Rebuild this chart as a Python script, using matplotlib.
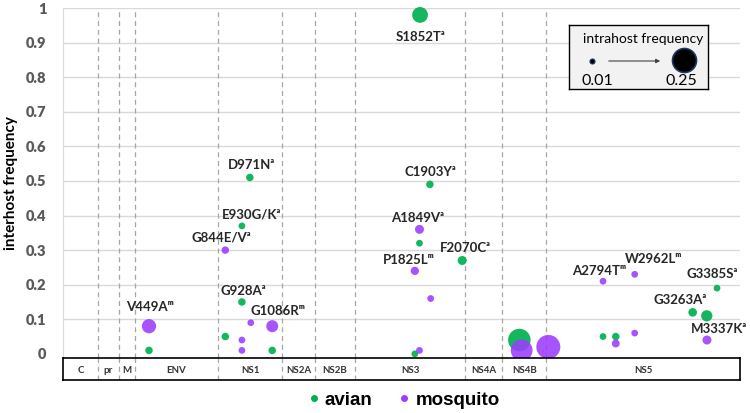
import numpy as np
import matplotlib
matplotlib.use('Agg')
import matplotlib.pyplot as plt
from matplotlib.lines import Line2D

plt.rcParams['font.family'] = ['Lato', 'DejaVu Sans']

# 1. data
genes = ['C', 'pr', 'M', 'ENV', 'NS1', 'NS2A', 'NS2B', 'NS3', 'NS4A', 'NS4B', 'NS5']
gene_bounds = [4, 185, 294, 377, 806, 1138, 1308, 1515, 2085, 2277, 2505, 3508]

avian_pos = [449, 844, 930, 930, 971, 1087, 1849, 1852, 1825, 1903, 2070, 2366, 2799, 2865, 3263, 3336, 3389]
avian_inter = [0.01, 0.05, 0.37, 0.15, 0.51, 0.01, 0.32, 0.98, 0.00, 0.49, 0.27, 0.04, 0.05, 0.05, 0.12, 0.11, 0.19]
avian_intra = [0.03, 0.03, 0.02, 0.03, 0.03, 0.03, 0.02, 0.14, 0.02, 0.03, 0.05, 0.23, 0.02, 0.03, 0.045, 0.08, 0.02]

mosq_pos = [449, 844, 930, 930, 976, 1087, 1825, 1849, 1849, 1907, 2378, 2516, 2799, 2963, 2963, 2865, 3337]
mosq_inter = [0.08, 0.30, 0.04, 0.01, 0.09, 0.08, 0.24, 0.36, 0.01, 0.16, 0.01, 0.02, 0.21, 0.23, 0.06, 0.03, 0.04]
mosq_intra = [0.12, 0.03, 0.02, 0.02, 0.02, 0.09, 0.04, 0.05, 0.02, 0.02, 0.22, 0.25, 0.02, 0.02, 0.02, 0.035, 0.05]

# label text, host, index of point
labels = [
    ('V449A', 'm', 0), ('G844E/V', 'a', 1), ('E930G/K', 'a', 2), ('G928A', 'a', 3),
    ('D971N', 'a', 4), ('G1086R', 'm', 5), ('A1849V', 'a', 7), ('S1852T', 'a', 7),
    ('P1825L', 'm', 6), ('C1903Y', 'a', 9), ('F2070C', 'a', 10), ('A2794T', 'm', 12),
    ('W2962L', 'm', 13), ('G3263A', 'a', 14), ('G3385S', 'a', 16), ('M3337K', 'a', 16),
]
# offsets in px (dx right, dy up) for each label
offsets = [(1, 19), (-4, 13), (10, 11), (1, 11), (2, 12), (6, 15), (-2, 11), (0, -22),
           (-6, 11), (0, 12), (3, 12), (-4, 10), (19, 15), (-13, 12), (-5, 14), (12, 11)]
label_src = ['m', 'm', 'a', 'a', 'a', 'm', 'm', 'a', 'm', 'a', 'a', 'm', 'm', 'a', 'a', 'm']

green = '#00B050'
purple = '#9B3CFF'
sup = {'a': '\u1d43', 'm': '\u1d50'}


def msize(f):
    d = 6 + (f - 0.01) / 0.24 * 18
    return (d * 0.72) ** 2


fig = plt.figure(figsize=(7.5, 4.13), dpi=100)
W, H = 750, 413
ax = fig.add_axes([63 / W, (H - 358) / H, 677 / W, 350 / H])
bx = fig.add_axes([63 / W, (H - 380) / H, 677 / W, 22 / H], sharex=ax)

ax.set_xlim(gene_bounds[0], gene_bounds[-1])
ax.set_ylim(-0.012, 1.0)
ax.set_yticks(np.arange(0, 1.01, 0.1))
ax.set_yticklabels(['0', '0.1', '0.2', '0.3', '0.4', '0.5', '0.6', '0.7', '0.8', '0.9', '1'],
                   fontsize=10.5, fontweight='heavy', color='#595959')
ax.tick_params(axis='y', length=0, pad=12)
ax.tick_params(axis='x', bottom=False, labelbottom=False)
for yy in np.arange(0.1, 1.01, 0.1):
    ax.axhline(yy, color='#d9d9d9', lw=1, zorder=0)
for s in ['top', 'right', 'bottom']:
    ax.spines[s].set_visible(False)
ax.spines['left'].set_color('#d9d9d9')
ax.set_ylabel('interhost frequency', fontsize=11, fontweight='bold', labelpad=6)

for b in gene_bounds[1:-1]:
    ax.axvline(b, color='#a6a6a6', lw=0.9, ls=(0, (4, 3)), zorder=1)
    bx.axvline(b, color='#a6a6a6', lw=0.9, ls=(0, (4, 3)))

ax.scatter(avian_pos, avian_inter, s=[msize(f) for f in avian_intra], color=green,
           alpha=0.92, lw=0, zorder=3, clip_on=False)
ax.scatter(mosq_pos, mosq_inter, s=[msize(f) for f in mosq_intra], color=purple,
           alpha=0.88, lw=0, zorder=4, clip_on=False)

for (name, host, i), (dx, dy), src in zip(labels, offsets, label_src):
    if src == 'a':
        xy = (avian_pos[i], avian_inter[i])
    else:
        xy = (mosq_pos[i], mosq_inter[i])
    ax.annotate(name + sup[host], xy=xy, xytext=(dx * 0.72, dy * 0.72), textcoords='offset points',
                ha='center', va='center', fontsize=9.5, fontweight='bold', color='#262626', zorder=5)

# gene box
bx.set_ylim(0, 1)
bx.set_xticks([])
bx.set_yticks([])
for s in bx.spines.values():
    s.set_color('black')
    s.set_linewidth(1.2)
for g, l, r in zip(genes, gene_bounds[:-1], gene_bounds[1:]):
    bx.text((l + r) / 2, 0.45, g, ha='center', va='center', fontsize=7, fontweight='bold',
            color='#333333')

# bottom legend
handles = [Line2D([], [], marker='o', ls='', color=green, markersize=4, label='avian'),
           Line2D([], [], marker='o', ls='', color=purple, markersize=4, label='mosquito')]
fig.legend(handles=handles, loc='center', bbox_to_anchor=(403 / W, (H - 400) / H), ncol=2,
           frameon=False, prop={'family': 'Liberation Sans', 'size': 13.5, 'weight': 'bold'},
           handletextpad=0.2, columnspacing=1.3, handlelength=0.8)

# intrahost size key
kx = fig.add_axes([569 / W, (H - 89) / H, 139 / W, 64 / H])
kx.set_xlim(0, 139)
kx.set_ylim(64, 0)
kx.set_facecolor('#f2f2f2')
kx.set_xticks([])
kx.set_yticks([])
for s in kx.spines.values():
    s.set_color('black')
    s.set_linewidth(1.0)
kx.text(74, 14, 'intrahost frequency', ha='center', va='center', fontsize=10)
kx.scatter([23], [36], s=msize(0.01) * 0.7, color='black', edgecolor='#1f3864', lw=0.8)
kx.scatter([115], [35], s=msize(0.25), color='black', edgecolor='#1f3864', lw=1.2)
kx.annotate('', xy=(94, 36), xytext=(37, 36),
            arrowprops=dict(arrowstyle='-|>', color='#404040', lw=0.8, mutation_scale=6))
kx.text(13, 56, '0.01', ha='left', va='center', fontsize=11.5)
kx.text(128, 56, '0.25', ha='right', va='center', fontsize=11.5)

fig.savefig('out.png', dpi=100)
